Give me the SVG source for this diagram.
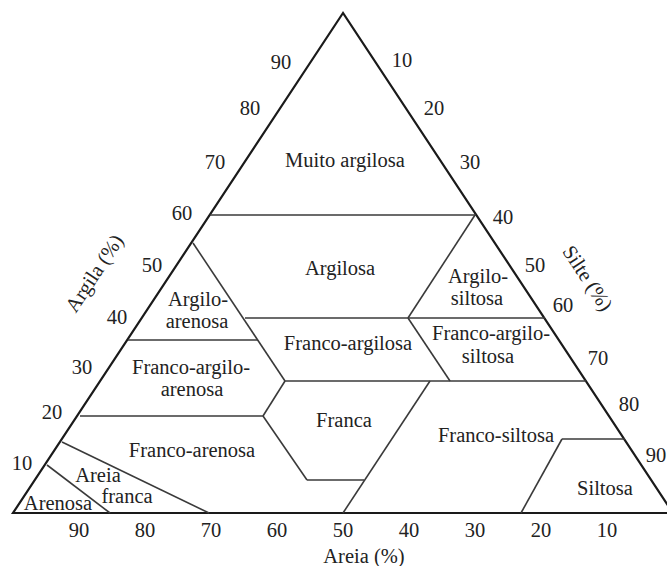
<svg xmlns="http://www.w3.org/2000/svg" width="667" height="566" viewBox="0 0 667 566" font-family="'Liberation Serif', 'DejaVu Serif', serif">
<style>
text{font-family:"Liberation Serif","DejaVu Serif",serif;font-size:20.5px;fill:#222;text-anchor:middle}
.frame{fill:none;stroke:#1a1a1a;stroke-width:2.2;stroke-linejoin:miter}
.ln{fill:none;stroke:#3a3a3a;stroke-width:1.6}
</style>
<rect width="667" height="566" fill="#fff"/>
<g id="frame">
<polygon class="frame" points="343,13 13,513 673,513"/>
</g>
<g id="connectors">
<line class="ln" x1="210" y1="215" x2="476" y2="215"/>
<line class="ln" x1="193" y1="243" x2="285" y2="381"/>
<line class="ln" x1="245" y1="318" x2="545" y2="318"/>
<line class="ln" x1="408" y1="318" x2="475" y2="215"/>
<line class="ln" x1="128" y1="340" x2="258" y2="340"/>
<line class="ln" x1="285" y1="381" x2="586" y2="381"/>
<line class="ln" x1="408" y1="318" x2="450" y2="381"/>
<line class="ln" x1="285" y1="381" x2="263" y2="416"/>
<line class="ln" x1="80" y1="416" x2="263" y2="416"/>
<line class="ln" x1="263" y1="416" x2="307" y2="480"/>
<line class="ln" x1="307" y1="480" x2="364" y2="480"/>
<line class="ln" x1="343" y1="513" x2="430" y2="381"/>
<line class="ln" x1="562" y1="439" x2="625" y2="439"/>
<line class="ln" x1="521" y1="513" x2="562" y2="439"/>
<line class="ln" x1="62" y1="442" x2="209" y2="513"/>
<line class="ln" x1="47" y1="465" x2="110" y2="513"/>
</g>
<g id="muito-argilosa"><text x="345" y="167">Muito argilosa</text></g>
<g id="argilosa"><text x="340" y="275">Argilosa</text></g>
<g id="argilo-siltosa"><text x="478" y="283">Argilo-</text><text x="477" y="305">siltosa</text></g>
<g id="argilo-arenosa"><text x="198" y="306">Argilo-</text><text x="197" y="328">arenosa</text></g>
<g id="franco-argilo-arenosa"><text x="191" y="374">Franco-argilo-</text><text x="192" y="396">arenosa</text></g>
<g id="franco-argilosa"><text x="348" y="350">Franco-argilosa</text></g>
<g id="franco-argilo-siltosa"><text x="491" y="340">Franco-argilo-</text><text x="488" y="363">siltosa</text></g>
<g id="franca"><text x="344" y="427">Franca</text></g>
<g id="franco-siltosa"><text x="496" y="442">Franco-siltosa</text></g>
<g id="franco-arenosa"><text x="192" y="457">Franco-arenosa</text></g>
<g id="siltosa"><text x="605" y="495">Siltosa</text></g>
<g id="areia-franca"><text x="98" y="482">Areia</text><text x="127" y="503">franca</text></g>
<g id="arenosa"><text x="58" y="510">Arenosa</text></g>
<g id="axis-argila">
<text x="281" y="69">90</text><text x="250" y="115">80</text><text x="215" y="169">70</text>
<text x="182" y="220">60</text><text x="152" y="272">50</text><text x="117" y="324">40</text>
<text x="82" y="374">30</text><text x="52" y="419">20</text><text x="22" y="470">10</text>
<text transform="translate(100,277) rotate(-56.6)">Argila (%)</text>
</g>
<g id="axis-silte">
<text x="402" y="67">10</text><text x="434" y="115">20</text><text x="470" y="169">30</text>
<text x="503" y="224">40</text><text x="535" y="272">50</text><text x="563" y="312">60</text>
<text x="598" y="365">70</text><text x="629" y="411">80</text><text x="656" y="462">90</text>
<text transform="translate(582,282) rotate(56.6)">Silte (%)</text>
</g>
<g id="axis-areia">
<text x="79" y="537">90</text><text x="145" y="537">80</text><text x="211" y="537">70</text>
<text x="277" y="537">60</text><text x="343" y="537">50</text><text x="409" y="537">40</text>
<text x="475" y="537">30</text><text x="541" y="537">20</text><text x="607" y="537">10</text>
<text x="364" y="563">Areia (%)</text>
</g>
</svg>
